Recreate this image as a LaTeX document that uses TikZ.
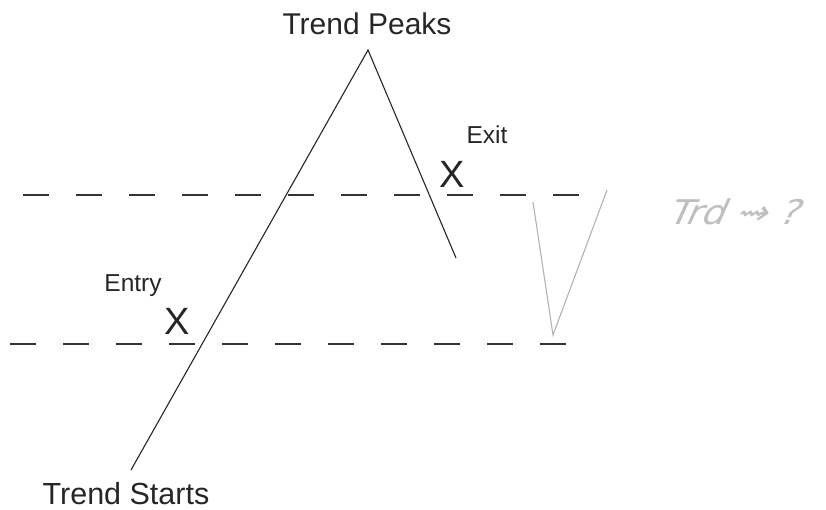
\documentclass[tikz,border=0pt]{standalone}
\usepackage{fontspec}
\setmainfont{Liberation Sans}
\newfontfamily\scribblefont{DejaVu Sans}
\begin{document}
\begin{tikzpicture}[x=1pt,y=-1pt,
  trendline/.style={line width=1.1pt,black!85},
  level/.style={line width=1.6pt,black!80,dash pattern=on 26pt off 27pt},
  sketch/.style={line width=1.1pt,black!30},
  lbl/.style={inner sep=0pt,text=black!85},
  xmark/.style={inner sep=0pt,text=black!85,font=\fontsize{38}{38}\selectfont}]
\useasboundingbox (0,0) rectangle (826,510);
% levels
\coordinate (t1) at (23,195);
\coordinate (t2) at (582,195);
\coordinate (b1) at (10,344);
\coordinate (b2) at (568,344);
\draw[level] (t1) -- (t2);
\draw[level] (b1) -- (b2);
% trend
\coordinate (start) at (131,470);
\coordinate (peak) at (368,50);
\coordinate (drop) at (456,258);
\draw[trendline] (start) -- (peak) -- (drop);
% labels
\node[lbl,font=\fontsize{30}{30}\selectfont] (peaks) at (367,24) {Trend Peaks};
\node[lbl,font=\fontsize{30.5}{30}\selectfont] (starts) at (126,494) {Trend Starts};
\node[lbl,font=\fontsize{24.5}{24}\selectfont] (entry) at (133,286) {Entry};
\node[lbl,font=\fontsize{24.5}{24}\selectfont] (exit) at (487,135) {Exit};
\node[xmark] (xentry) at (177,321) {X};
\node[xmark] (xexit) at (452,174) {X};
% sketch V
\coordinate (v1) at (533,202);
\coordinate (v2) at (553,335);
\coordinate (v3) at (607,190);
\draw[sketch] (v1) -- (v2) -- (v3);
\node[inner sep=0pt,text=black!25,font=\scribblefont\fontsize{34}{34}\selectfont,xslant=0.45,xscale=1.1] (note) at (738,212) {Trd ⇝ ?};
\end{tikzpicture}
\end{document}
